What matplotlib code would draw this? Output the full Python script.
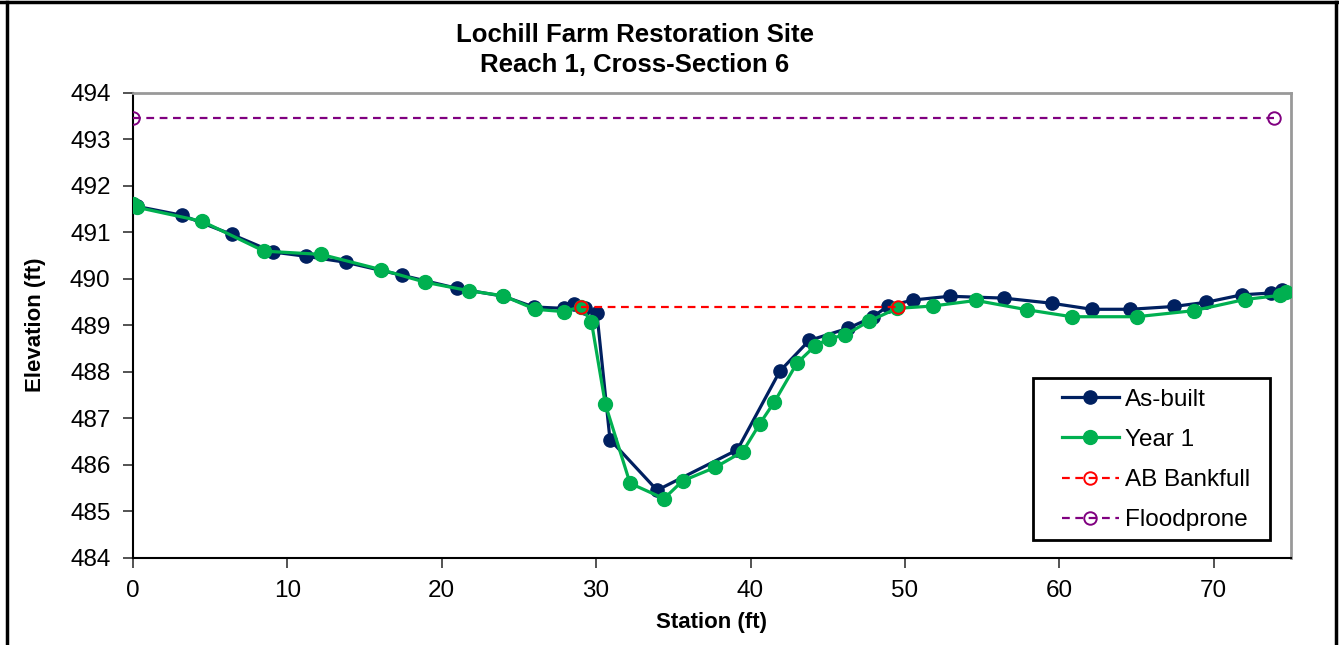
import matplotlib
matplotlib.use("Agg")
import matplotlib.pyplot as plt
from matplotlib.lines import Line2D
from matplotlib.patches import Rectangle

plt.rcParams["font.family"] = ["Liberation Sans", "DejaVu Sans"]

# ── DATA ────────────────────────────────────────────────────
ab_station = [0.0, 0.3, 3.2, 6.4, 9.1, 11.2, 13.8, 17.45, 21.0, 24.0, 25.95,
              27.9, 28.6, 29.3, 30.05, 30.9, 33.95, 39.15, 41.9, 43.8, 46.3,
              47.9, 48.9, 50.55, 52.9, 56.4, 59.5, 62.1, 64.6, 67.4, 69.5,
              71.8, 73.7, 74.4]
ab_elev = [491.60, 491.55, 491.36, 490.95, 490.57, 490.48, 490.35, 490.07,
           489.79, 489.62, 489.39, 489.36, 489.46, 489.37, 489.26, 486.54,
           485.45, 486.32, 488.01, 488.67, 488.93, 489.17, 489.41, 489.54,
           489.62, 489.58, 489.47, 489.34, 489.34, 489.40, 489.49, 489.65,
           489.69, 489.76]

y1_station = [0.0, 0.3, 4.5, 8.5, 12.2, 16.1, 18.95, 21.75, 24.0, 26.05,
              27.9, 29.0, 29.7, 30.6, 32.2, 34.4, 35.6, 37.7, 39.5, 40.6,
              41.55, 43.0, 44.2, 45.1, 46.15, 47.7, 49.5, 51.8, 54.6, 57.9,
              60.8, 65.0, 68.7, 72.0, 74.3, 74.7]
y1_elev = [491.60, 491.53, 491.23, 490.59, 490.52, 490.19, 489.92, 489.74,
           489.63, 489.34, 489.29, 489.39, 489.07, 487.30, 485.60, 485.27,
           485.65, 485.94, 486.28, 486.88, 487.35, 488.18, 488.56, 488.71,
           488.79, 489.09, 489.36, 489.41, 489.53, 489.33, 489.18, 489.18,
           489.31, 489.55, 489.64, 489.72]

bkf_station = [29.0, 49.55]
bkf_elev = [489.38, 489.38]

fp_station = [0.0, 73.9]
fp_elev = [493.46, 493.46]

# ── PLOT ────────────────────────────────────────────────────
W, H = 1339, 645
fig = plt.figure(figsize=(W / 100, H / 100), dpi=100)
ax = fig.add_axes([132.8 / W, 1 - 557.7 / H, (1291 - 132.8) / W, (557.7 - 92.5) / H])

ax.plot(ab_station, ab_elev, color="#002060", lw=2.3, marker="o", ms=9.5,
        label="As-built", zorder=3)
ax.plot(y1_station, y1_elev, color="#00B050", lw=2.3, marker="o", ms=10,
        label="Year 1", zorder=4)
ax.plot(bkf_station, bkf_elev, color="#FF0000", lw=1.6, ls=(0, (3.5, 2.5)),
        marker="o", ms=9, mfc="none", mew=1.4, label="AB Bankfull", zorder=5)
ax.plot(fp_station, fp_elev, color="#800080", lw=1.6, ls=(0, (3.5, 2.5)),
        marker="o", ms=9, mfc="none", mew=1.4, label="Floodprone", zorder=5)

ax.set_xlim(0, 75)
ax.set_ylim(484, 494)
ax.set_xticks(range(0, 71, 10))
ax.set_yticks(range(484, 495, 1))
ax.tick_params(labelsize=17.5, length=7, width=1.3, color="#444444")
ax.tick_params(axis="x", pad=9)
ax.tick_params(axis="y", pad=9)

for s in ["left", "bottom"]:
    ax.spines[s].set_color("black")
    ax.spines[s].set_linewidth(1.5)
for s in ["top", "right"]:
    ax.spines[s].set_color("#999999")
    ax.spines[s].set_linewidth(2)

ax.set_xlabel("Station (ft)", fontsize=16, fontweight="bold", labelpad=7)
ax.set_ylabel("Elevation (ft)", fontsize=16, fontweight="bold", labelpad=17)

fig.text(635 / W, 1 - 35 / H, "Lochill Farm Restoration Site", ha="center",
         va="center", fontsize=18.5, fontweight="bold")
fig.text(635 / W, 1 - 65 / H, "Reach 1, Cross-Section 6", ha="center",
         va="center", fontsize=18.5, fontweight="bold")

leg = ax.legend(loc="upper left", bbox_to_anchor=(1052 / W, 1 - 379 / H),
                bbox_transform=fig.transFigure, fontsize=17.5, frameon=False,
                handlelength=2.35, labelspacing=0.75, borderpad=0.4,
                handletextpad=0.25, borderaxespad=0)

# Legend box
fig.add_artist(Rectangle((1033 / W, 1 - 540 / H), (1270 - 1033) / W,
                         (540 - 378) / H, transform=fig.transFigure,
                         fill=False, edgecolor="black", lw=2))

# Outer chart border
fig.add_artist(Line2D([0, 1], [1 - 1.5 / H] * 2, color="black", lw=2.5,
                      transform=fig.transFigure))
fig.add_artist(Line2D([7 / W] * 2, [0, 1 - 1.5 / H], color="black", lw=2.5,
                      transform=fig.transFigure))
fig.add_artist(Line2D([1336 / W] * 2, [0, 1 - 1.5 / H], color="black", lw=2.5,
                      transform=fig.transFigure))

fig.savefig("out.png", dpi=100)
